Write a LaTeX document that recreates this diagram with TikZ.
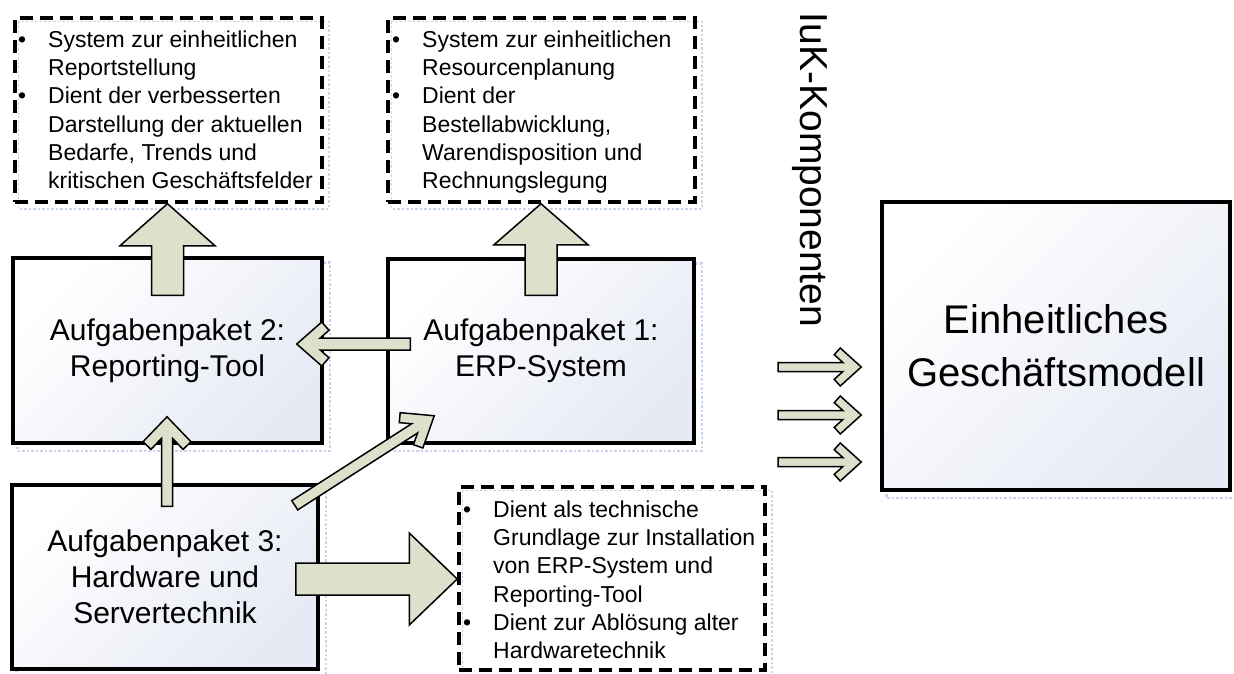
\documentclass[tikz,border=0pt]{standalone}
\usepackage{fontspec}
\setmainfont{Liberation Sans}
\usetikzlibrary{calc,backgrounds}

\definecolor{arrowfill}{RGB}{221,224,203}
\definecolor{boxend}{RGB}{230,234,244}
\definecolor{ghostblue}{RGB}{200,212,236}

\tikzset{
  solidbox/.style={draw=black, line width=3.5pt, top color=white, bottom color=boxend,
    shading angle=45, align=center, inner sep=0pt, font=\fontsize{30}{36}\selectfont},
  dashbox/.style={draw=black, line width=3.5pt, dash pattern=on 13pt off 7pt, inner sep=0pt},
  ghost/.style={draw=ghostblue, line width=2.5pt, dotted},
  fatarrow/.style={draw=black, fill=arrowfill, line width=1.5pt, line join=miter},
  bullettext/.style={anchor=north west, inner sep=0pt, font=\fontsize{23}{28.3}\selectfont},
}

% block arrow: from, to, shaft half width, head half width, head length
\newcommand\blockarrow[5]{%
  \coordinate (bab) at ($(#2)!#5pt!(#1)$);
  \draw[fatarrow] ($(#1)!#3pt!90:(#2)$) -- ($(bab)!#3pt!90:(#2)$)
    -- ($(bab)!#4pt!90:(#2)$) -- (#2) -- ($(bab)!#4pt!-90:(#2)$)
    -- ($(bab)!#3pt!-90:(#2)$) -- ($(#1)!#3pt!-90:(#2)$) -- cycle;
}

% open-headed arrow: from, to, shaft half width, head depth, head half span, arm thickness
\newcommand\chevarrow[6]{%
  \pgfmathsetmacro\arwr{veclen(#4,#5)}%
  \pgfmathsetmacro\arwd{#4+#6*#5/\arwr}%
  \pgfmathsetmacro\arws{#5-#6*#4/\arwr}%
  \pgfmathsetmacro\arwj{\arwd-(\arws-#3)*#4/#5}%
  \coordinate (cva) at ($(#2)!#4pt!(#1)$);
  \coordinate (cvb) at ($(#2)!\arwd pt!(#1)$);
  \coordinate (cvj) at ($(#2)!\arwj pt!(#1)$);
  \draw[fatarrow] (#2) -- ($(cva)!#5pt!90:(#2)$) -- ($(cvb)!\arws pt!90:(#2)$)
    -- ($(cvj)!#3pt!90:(#2)$) -- ($(#1)!#3pt!90:(#2)$) -- ($(#1)!#3pt!-90:(#2)$)
    -- ($(cvj)!#3pt!-90:(#2)$) -- ($(cvb)!\arws pt!-90:(#2)$)
    -- ($(cva)!#5pt!-90:(#2)$) -- cycle;
}

\newcommand\bul{\textbullet}

\begin{document}
\begin{tikzpicture}[x=1pt,y=-1pt]
\useasboundingbox (0,0) rectangle (1234,673);

% description boxes
\node[dashbox, minimum width=307pt, minimum height=184pt] (d1) at (168.5,110) {};
\node[dashbox, minimum width=307pt, minimum height=184pt] (d2) at (541.5,110) {};
\node[dashbox, minimum width=306pt, minimum height=183pt] (d3) at (612,578.5) {};

\node[bullettext] (t1) at (18,27.2) {%
\begin{tabular}{@{}p{30pt}@{}l@{}}
\bul & System zur einheitlichen\\
     & Reportstellung\\
\bul & Dient der verbesserten\\
     & Darstellung der aktuellen\\
     & Bedarfe, Trends und\\
     & kritischen Geschäftsfelder
\end{tabular}};

\node[bullettext] (t2) at (392,27.2) {%
\begin{tabular}{@{}p{30pt}@{}l@{}}
\bul & System zur einheitlichen\\
     & Resourcenplanung\\
\bul & Dient der\\
     & Bestellabwicklung,\\
     & Warendisposition und\\
     & Rechnungslegung
\end{tabular}};

\node[bullettext] (t3) at (463,497.2) {%
\begin{tabular}{@{}p{30pt}@{}l@{}}
\bul & Dient als technische\\
     & Grundlage zur Installation\\
     & von ERP-System und\\
     & Reporting-Tool\\
\bul & Dient zur Ablösung alter\\
     & Hardwaretechnik
\end{tabular}};

% work packages
\node[solidbox, minimum width=309pt, minimum height=185pt] (ap2) at (167.5,350.5)
  {Aufgabenpaket 2:\\Reporting-Tool};
\node[solidbox, minimum width=306pt, minimum height=184pt] (ap1) at (541,351)
  {Aufgabenpaket 1:\\ERP-System};
\node[solidbox, minimum width=306pt, minimum height=184pt] (ap3) at (165,577)
  {Aufgabenpaket 3:\\Hardware und\\Servertechnik};
\node[solidbox, minimum width=348pt, minimum height=288pt,
      font=\fontsize{40}{53}\selectfont] (gm) at (1056,346)
  {Einheitliches\\Geschäftsmodell};

\node[rotate=-90, inner sep=0pt, font=\fontsize{39}{47}\selectfont] (iuk) at (810,170)
  {IuK-Komponenten};

% pale selection outlines behind the boxes
\begin{scope}[on background layer]
  \foreach \b in {ap1,ap2,ap3,gm}
    \draw[ghost] ($(\b.north west)+(6,6)$) rectangle ($(\b.south east)+(6,6)$);
  \foreach \b in {d1,d2,d3}
    \draw[ghost, line width=1.5pt] ($(\b.north west)+(5,5)$) rectangle ($(\b.south east)+(5,5)$);
\end{scope}

% connectors
\coordinate (a1s) at ($(ap2.north)+(0,39)$);
\coordinate (a1e) at (a1s |- d1.south);
\blockarrow{a1s}{a1e}{16}{47.5}{42}

\coordinate (a2s) at ($(ap1.north)+(0,38)$);
\coordinate (a2e) at (a2s |- d2.south);
\blockarrow{a2s}{a2e}{16}{47}{41}

\coordinate (a3s) at ($(ap1.west)+(24,-7)$);
\coordinate (a3t) at ($(ap2.east)+(-27,0)$);
\coordinate (a3e) at (a3t |- a3s);
\chevarrow{a3s}{a3e}{6}{25}{22}{11}

\coordinate (a4s) at ($(ap3.north)+(2,23)$);
\coordinate (a4t) at ($(ap2.south)+(0,-28)$);
\coordinate (a4e) at (a4s |- a4t);
\chevarrow{a4s}{a4e}{5.5}{25}{24}{11}

\coordinate (a5s) at ($(ap3.north east)+(-25,22)$);
\coordinate (a5e) at ($(ap1.south west)+(48,-29)$);
\chevarrow{a5s}{a5e}{5.5}{27}{21}{10}

\coordinate (a6s) at ($(ap3.east)+(-24,2)$);
\coordinate (a6e) at (a6s -| d3.west);
\blockarrow{a6s}{a6e}{16}{46}{48}

\foreach \i/\y in {1/367,2/415,3/462}{
  \coordinate (k\i s) at (778,\y);
  \coordinate (k\i e) at ($(k\i s -| gm.west)+(-19,0)$);
  \chevarrow{k\i s}{k\i e}{4.5}{21}{19}{9}
}
\end{tikzpicture}
\end{document}
